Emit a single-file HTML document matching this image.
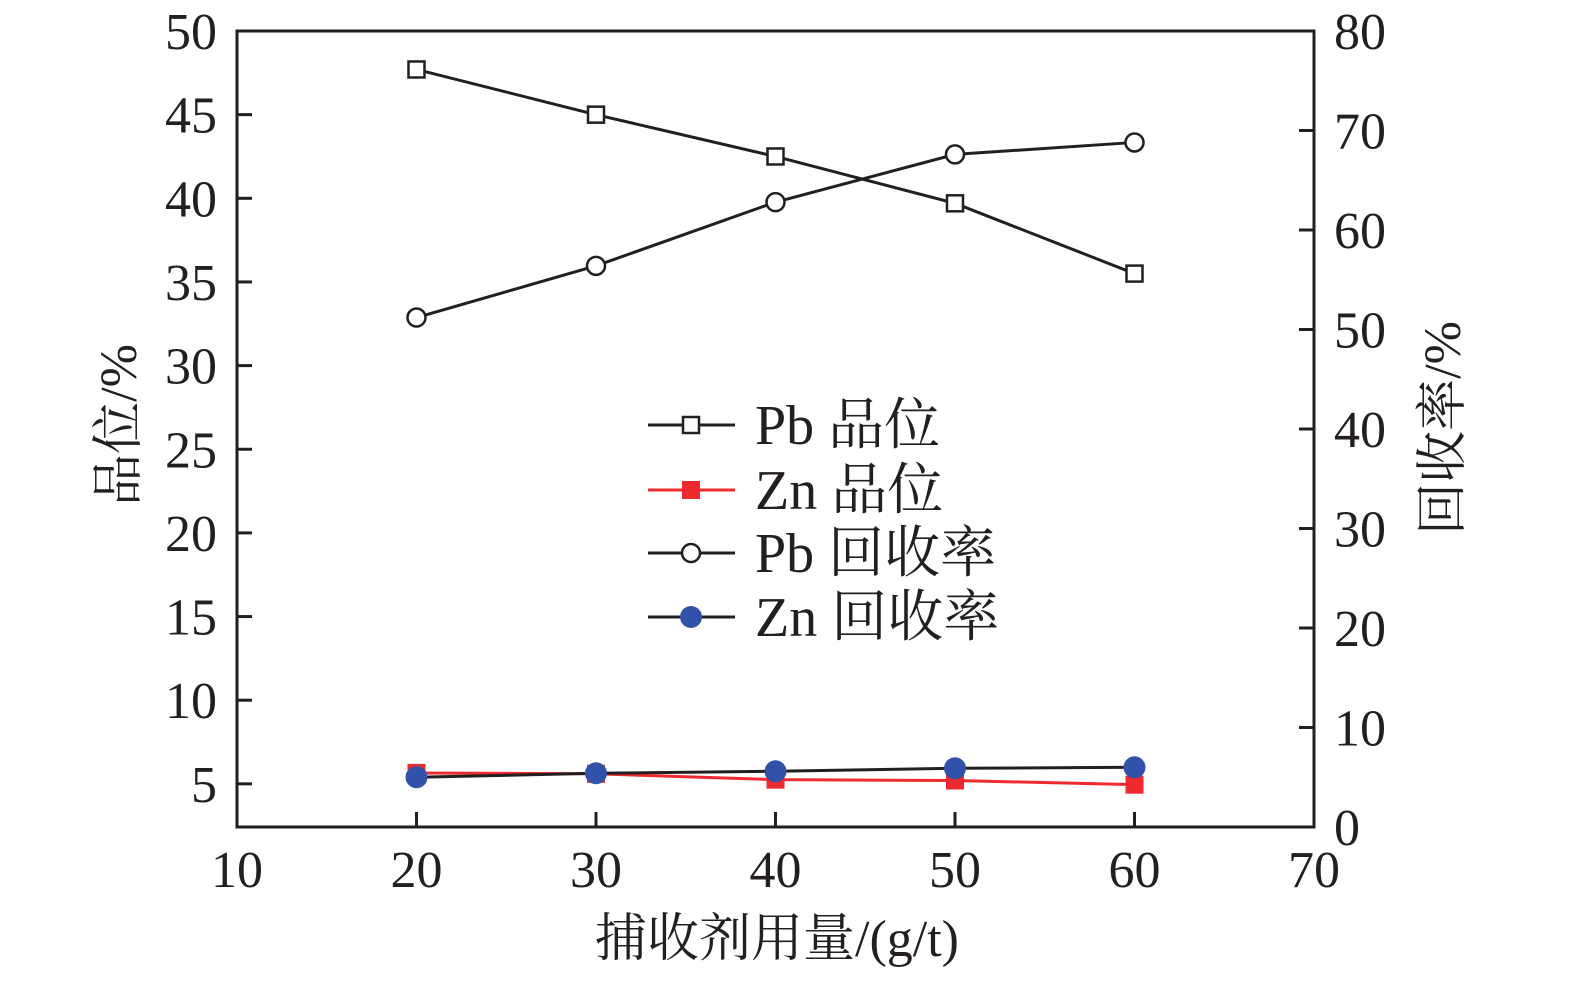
<!DOCTYPE html>
<html><head><meta charset="utf-8"><style>
body{margin:0;background:#fff}
text{font-family:"Liberation Serif","Noto Serif CJK SC",serif;fill:#231f20}
</style></head><body>
<svg id="c" width="1575" height="976" xmlns="http://www.w3.org/2000/svg"></svg>
<script>
const xCats=[20,30,40,50,60];
const pbGrade=[47.7,45.0,42.5,39.7,35.5];
const znGrade=[5.65,5.6,5.25,5.2,4.95];
const pbRec=[51.2,56.4,62.8,67.6,68.8];
const znRec=[5.0,5.4,5.6,5.9,6.0];
const xTicks=[10,20,30,40,50,60,70];
const yLTicks=[5,10,15,20,25,30,35,40,45,50];
const yRTicks=[0,10,20,30,40,50,60,70,80];
const L=237,R=1314,T=31,B=827;
const X=v=>L+(v-10)/60*(R-L);
const YL=v=>T+(50-v)*16.73;
const YR=v=>B-(v/80)*(B-T);
const svg=document.getElementById('c');const NS='http://www.w3.org/2000/svg';
function el(t,a,p){const e=document.createElementNS(NS,t);for(const k in a)e.setAttribute(k,a[k]);(p||svg).appendChild(e);return e;}
function txt(s,a,name){const e=el('text',a);e.textContent=s;return e;}
const frame=el('rect',{x:L,y:T,width:R-L,height:B-T,fill:'none',stroke:'#231f20','stroke-width':3});

xTicks.forEach(v=>{const l=el('line',{x1:X(v),x2:X(v),y1:B,y2:B-15,stroke:'#231f20','stroke-width':3});

txt(v,{x:X(v),y:887,'font-size':52,'text-anchor':'middle'},'x-tick-label');});
yLTicks.forEach(v=>{const l=el('line',{x1:L,x2:L+15,y1:YL(v),y2:YL(v),stroke:'#231f20','stroke-width':3});

txt(v,{x:217,y:YL(v)+18,'font-size':52,'text-anchor':'end'},'y-left-tick-label');});
yRTicks.forEach(v=>{const l=el('line',{x1:R,x2:R-15,y1:YR(v),y2:YR(v),stroke:'#231f20','stroke-width':3});

txt(v,{x:1334,y:YR(v)+18,'font-size':52,'text-anchor':'start'},'y-right-tick-label');});
txt('捕收剂用量/(g/t)',{x:777,y:956,'font-size':52,'text-anchor':'middle'},'x-axis-title');
txt('品位/%',{x:0,y:0,'font-size':52,'text-anchor':'middle',transform:'translate(136,425) rotate(-90)'},'y-left-axis-title');
txt('回收率/%',{x:0,y:0,'font-size':52,'text-anchor':'middle',transform:'translate(1460,428) rotate(-90)'},'y-right-axis-title');
function series(vals,Y,color,marker,name){
 const g=el('g',{});
 el('polyline',{points:vals.map((v,i)=>X(xCats[i])+','+Y(v)).join(' '),fill:'none',stroke:color,'stroke-width':3},g);
 vals.forEach((v,i)=>{const m=drawMarker(X(xCats[i]),Y(v),marker,g);});
}
function drawMarker(x,y,m,g){
 if(m==='osq')return el('rect',{x:x-8,y:y-8,width:16,height:16,fill:'#fff',stroke:'#231f20','stroke-width':2.5},g);
 if(m==='rsq')return el('rect',{x:x-9,y:y-9,width:18,height:18,fill:'#ee2a2e'},g);
 if(m==='oc')return el('circle',{cx:x,cy:y,r:9,fill:'#fff',stroke:'#231f20','stroke-width':2.5},g);
 return el('circle',{cx:x,cy:y,r:11,fill:'#3152a8'},g);
}
series(pbGrade,YL,'#231f20','osq','pb-grade');
series(pbRec,YR,'#231f20','oc','pb-recovery');
series(znGrade,YL,'#ee2a2e','rsq','zn-grade');
series(znRec,YR,'#231f20','bc','zn-recovery');
const leg=[['Pb 品位','#231f20','osq',425],['Zn 品位','#ee2a2e','rsq',490],['Pb 回收率','#231f20','oc',553],['Zn 回收率','#231f20','bc',617]];
leg.forEach(([s,c,m,y])=>{const g=el('g',{});
 el('line',{x1:648,x2:735,y1:y,y2:y,stroke:c,'stroke-width':3},g);drawMarker(691,y,m,g);
 const t=el('text',{x:755,y:y+19,'font-size':56},g);t.textContent=s;});
</script>
</body></html>
